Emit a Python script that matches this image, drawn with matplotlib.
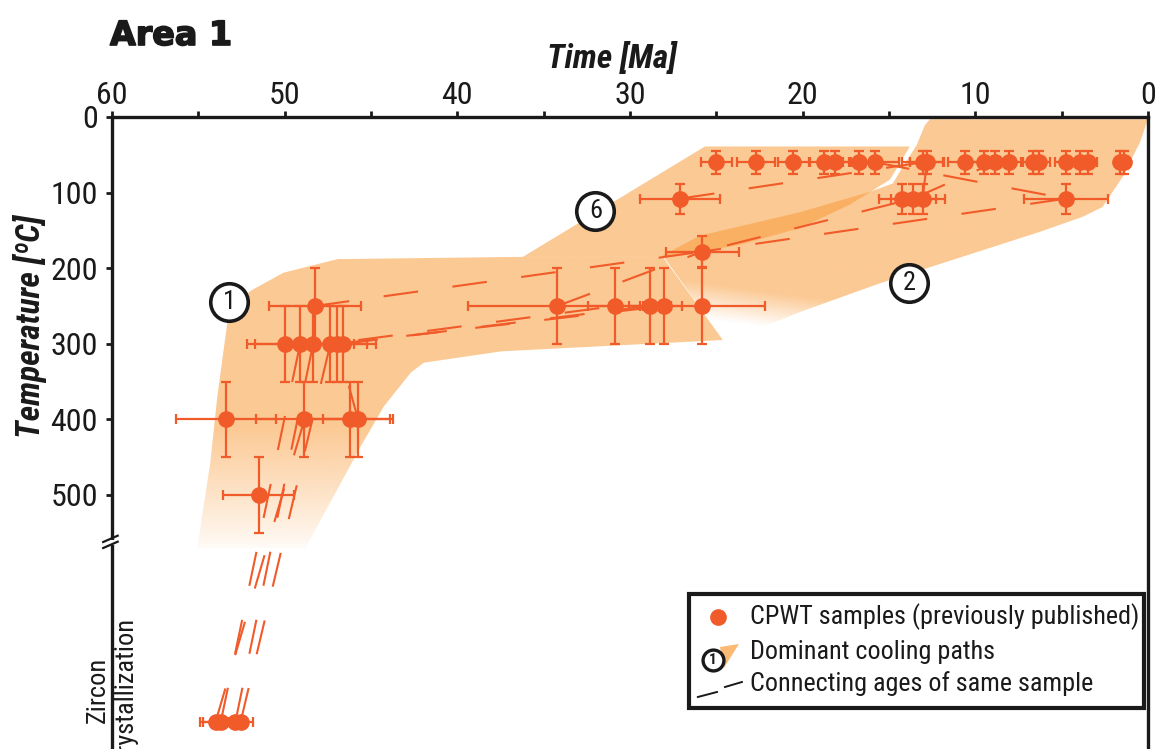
import numpy as np
import matplotlib
matplotlib.use("Agg")
import matplotlib.pyplot as plt
from matplotlib.patches import Polygon, Rectangle
from matplotlib import font_manager as fm
from matplotlib import patheffects as pe

# ---------------------------------------------------------------- data
# Thermochronology ages (Ma) and closure temperatures (degC), grouped by
# temperature step; errors are bars in age and temperature.
ages_060 = [25.0, 22.7, 20.55, 18.75, 18.1, 16.75, 15.8, 13.05, 12.8, 10.6,
            9.5, 8.85, 8.05, 6.65, 6.3, 4.75, 3.95, 3.45, 1.6, 1.4]
aerr_060 = [0.9, 1.1, 0.9, 0.8, 0.8, 0.9, 1.4, 1.2, 1.0, 1.0,
            0.8, 0.7, 0.7, 0.6, 0.6, 0.65, 0.5, 0.5, 0.2, 0.2]
temp_060, terr_060 = 60, 15

ages_108 = [27.1, 14.25, 13.6, 13.05, 4.75]
aerr_108 = [2.3, 1.3, 1.3, 1.3, 2.45]
temp_108, terr_108 = 108, 20

ages_178 = [25.8]
aerr_178 = [2.1]
temp_178, terr_178 = 178, 20

ages_250 = [48.25, 34.2, 30.85, 28.85, 28.0, 25.8]
aerr_250 = [2.65, 5.2, 1.6, 1.2, 1.0, 3.6]
temp_250, terr_250 = 250, 50

ages_300 = [49.95, 49.1, 48.35, 47.35, 46.95, 46.6]
aerr_300 = [1.75, 3.1, 1.0, 1.0, 1.7, 1.9]
temp_300, terr_300 = 300, 50

ages_400 = [53.4, 48.85, 46.2, 45.75]
aerr_400 = [2.9, 2.8, 2.3, 2.0]
temp_400, terr_400 = 400, 50

ages_500 = [51.5]
aerr_500 = [2.05]
temp_500, terr_500 = 500, 50

# zircon U-Pb crystallization ages, plotted on the level below the axis break
ages_zrc = [54.0, 53.7, 52.85, 52.55]
aerr_zrc = [0.9, 1.0, 0.6, 0.7]
temp_zrc = 800

# ages belonging to the same sample, joined by dashed lines
sample_paths = [
    [(54.0, 800), (48.85, 400)],
    [(53.7, 800), (49.1, 300)],
    [(52.85, 800), (48.35, 300)],
    [(52.55, 800), (47.35, 300), (30.85, 250)],
    [(46.6, 300), (28.85, 250)],
    [(46.95, 300), (28.0, 250)],
    [(45.75, 400), (46.95, 300)],
    [(48.25, 250), (25.8, 178), (13.6, 108)],
    [(34.2, 250), (25.8, 178), (4.75, 108)],
    [(27.1, 108), (13.05, 60)],
    [(15.8, 60), (4.75, 108)],
    [(13.6, 108), (8.85, 60)],
    [(12.8, 60), (13.05, 108)],
]

# dominant cooling-path envelopes (age, temperature outlines)
path1_outline = [(55.06, 570), (54.31, 458), (53.9, 370), (53.32, 272),
                 (52.68, 246), (51.98, 230), (50.07, 206), (48.33, 196),
                 (46.93, 188), (36.2, 185), (28.1, 185), (24.62, 295),
                 (37.46, 310), (41.94, 325), (42.69, 338), (44.26, 383),
                 (45.6, 436), (48.79, 570)]
path6_outline = [(36.2, 185), (25.66, 39), (13.79, 39), (14.08, 50),
                 (14.49, 66), (14.95, 83), (17.27, 116), (20.16, 147),
                 (23.64, 169), (25.95, 178.5), (28.1, 185)]
path2_outline = [(28.1, 183), (25.95, 157), (20.16, 126), (16.11, 99),
                 (14.78, 88), (14.2, 66), (13.39, 37), (12.92, 11),
                 (12.63, 3), (0.0, 3), (0.47, 34), (1.46, 79), (2.62, 119),
                 (3.78, 132), (6.27, 152), (10.9, 186), (15.53, 220),
                 (20.16, 258), (23.64, 290), (24.62, 295)]

path_labels = ["1", "6", "2"]
path_label_pos = [(53.2, 245), (32.0, 124), (13.85, 220)]

x_ticks = [60, 50, 40, 30, 20, 10, 0]
x_minor = [55, 45, 35, 25, 15, 5]
y_ticks = [0, 100, 200, 300, 400, 500]

# ---------------------------------------------------------------- style
def first_font(*names):
    for name in names:
        try:
            fm.findfont(fm.FontProperties(family=name), fallback_to_default=False)
            return name
        except Exception:
            continue
    return "DejaVu Sans"

NARROW = first_font("Liberation Sans Narrow", "Roboto Condensed",
                    "Liberation Sans", "Arial")
plt.rcParams["font.family"] = [NARROW, "DejaVu Sans"]
plt.rcParams["lines.scale_dashes"] = False

ORANGE = "#F15A29"
ENV_RGB = (249 / 255, 157 / 255, 60 / 255)
ENV_ALPHA = 0.55
INK = "#1a1a1a"

fig = plt.figure(figsize=(11.58, 7.49), dpi=100)
ax = fig.add_axes([0.0967, 0.0, 0.8946, 0.8438])
ax.set_facecolor("white")


def gradient_envelope(outline, fade, zorder):
    patch = Polygon(outline, closed=True, fc="none", ec="none",
                    transform=ax.transData)
    ax.add_patch(patch)
    a = np.array(outline)
    a0, a1 = a[:, 0].min(), a[:, 0].max()
    t0, t1 = a[:, 1].min(), a[:, 1].max()
    A, T = np.meshgrid(np.linspace(a0, a1, 400), np.linspace(t0, t1, 400))
    rgba = np.zeros(A.shape + (4,))
    rgba[..., :3] = ENV_RGB
    rgba[..., 3] = ENV_ALPHA * np.clip(fade(A, T), 0, 1)
    im = ax.imshow(rgba, extent=(a0, a1, t0, t1), origin="lower",
                   aspect="auto", interpolation="bilinear", zorder=zorder)
    im.set_clip_path(patch)


def fade_path1(A, T):
    # whitens towards the hot end
    return np.clip((580 - T) / 170, 0, 1) ** 0.9


def fade_path2(A, T):
    # whitens towards the old end, mostly along its lower edge
    u = (60 - A) * 17.27      # horizontal screen-like units
    v = T * 0.756             # vertical screen-like units
    dx, dy = u - 611, v - 223
    across = (-123 * dx - 360 * dy) / 380   # distance above the lower edge
    along = (360 * dx - 123 * dy) / 380     # distance from the old tip
    return across / 40 + (along - 40) / 80


gradient_envelope(path1_outline, fade_path1, 1)
gradient_envelope(path2_outline, fade_path2, 1)
ax.add_patch(Polygon(path6_outline, closed=True, fc=ENV_RGB, alpha=ENV_ALPHA,
                     ec="none", zorder=1))

# dashed links between ages of one sample
for path in sample_paths:
    pa, pt = zip(*path)
    ax.plot(pa, pt, color=ORANGE, lw=1.5, dashes=(25, 25), zorder=2,
            dash_capstyle="butt")

# samples with error bars
groups = [
    (ages_060, aerr_060, temp_060, terr_060),
    (ages_108, aerr_108, temp_108, terr_108),
    (ages_178, aerr_178, temp_178, terr_178),
    (ages_250, aerr_250, temp_250, terr_250),
    (ages_300, aerr_300, temp_300, terr_300),
    (ages_400, aerr_400, temp_400, terr_400),
    (ages_500, aerr_500, temp_500, terr_500),
]
for ages, aerr, temp, terr in groups:
    ax.errorbar(ages, [temp] * len(ages), xerr=aerr, yerr=terr, fmt="o",
                color=ORANGE, ms=11, elinewidth=1.6, capsize=3.6,
                capthick=1.6, zorder=4)
ax.errorbar(ages_zrc, [temp_zrc] * len(ages_zrc), xerr=aerr_zrc, fmt="o",
            color=ORANGE, ms=11, elinewidth=1.6, capsize=3.6, capthick=1.6,
            zorder=4)

# numbered cooling-path labels
for lab, (pa, pt) in zip(path_labels, path_label_pos):
    ax.plot(pa, pt, "o", ms=27, mfc="white", mec=INK, mew=2.6, zorder=6)
    ax.text(pa, pt, lab, ha="center", va="center", fontsize=19, color=INK,
            zorder=7)

# ---------------------------------------------------------------- axes
ax.set_xlim(60, 0)
ax.set_ylim(836, 0)
ax.xaxis.tick_top()
ax.set_xticks(x_ticks)
ax.set_xticks(x_minor, minor=True)
ax.set_yticks(y_ticks)
ax.tick_params(axis="x", which="both", direction="out", length=4, width=2,
               pad=1, labelsize=23, colors=INK, bottom=False, top=True)
ax.tick_params(axis="y", which="both", direction="out", length=4, width=2,
               pad=6, labelsize=23, colors=INK, right=False)
for side in ("top", "left", "right"):
    ax.spines[side].set_linewidth(2.4)
    ax.spines[side].set_color(INK)
ax.spines["bottom"].set_visible(False)

ax.set_xlabel("Time [Ma]", fontsize=24, fontweight="bold", style="italic",
              color=INK)
ax.xaxis.set_label_position("top")
ax.xaxis.set_label_coords(0.4826, 1.093)
ax.xaxis.label.set_va("center")
ax.set_ylabel("Temperature [ºC]", fontsize=24, fontweight="bold",
              style="italic", color=INK)
ax.yaxis.set_label_coords(-0.079, 0.669)
ax.yaxis.label.set_va("center")

# axis break on the temperature scale
ax.add_patch(Rectangle((-0.008, 0.322), 0.016, 0.009, transform=ax.transAxes,
                       fc="white", ec="none", clip_on=False, zorder=9))
for dy in (0.0, 0.0095):
    ax.plot([-0.0085, 0.0055], [0.318 + dy, 0.328 + dy], color=INK, lw=1.6,
            transform=ax.transAxes, clip_on=False, zorder=10)

ax.text(0.0, 0.0934, "Zircon\ncrystallization", rotation=90,
        ha="center", va="center", multialignment="center", fontsize=19,
        color=INK, transform=ax.transAxes, clip_on=False, zorder=3)

# ---------------------------------------------------------------- key
ax.add_patch(Rectangle((0.557, 0.0649), 0.439, 0.1804, transform=ax.transAxes,
                       fc="white", ec=INK, lw=3, zorder=8))
ax.plot([0.585], [0.2089], "o", color=ORANGE, ms=11, transform=ax.transAxes,
        zorder=9)
ax.add_patch(Polygon([(0.5869, 0.1614), (0.6052, 0.1661), (0.5907, 0.1282)],
                     closed=True, fc=ENV_RGB, alpha=0.7, ec="none",
                     transform=ax.transAxes, zorder=9))
ax.plot([0.5801], [0.1408], "o", ms=15, mfc="white", mec=INK, mew=2.4,
        transform=ax.transAxes, zorder=10)
ax.text(0.5801, 0.1408, "1", ha="center", va="center", fontsize=11,
        fontweight="bold", color=INK, transform=ax.transAxes, zorder=11)
ax.plot([0.5656, 0.5840], [0.0823, 0.0902], color=INK, lw=1.4,
        transform=ax.transAxes, zorder=9)
ax.plot([0.5917, 0.6081], [0.0981, 0.1060], color=INK, lw=1.4,
        transform=ax.transAxes, zorder=9)
key_text = ["CPWT samples (previously published)", "Dominant cooling paths",
            "Connecting ages of same sample"]
for txt, y in zip(key_text, (0.2089, 0.1535, 0.1028)):
    ax.text(0.6158, y, txt, ha="left", va="center", fontsize=18.8, color=INK,
            transform=ax.transAxes, zorder=9)

fig.text(0.095, 0.9399, "Area 1", fontsize=24, fontweight="bold",
         family="DejaVu Sans", color=INK, ha="left", va="baseline",
         path_effects=[pe.withStroke(linewidth=1.2, foreground=INK)])

fig.savefig("out.png", dpi=100, facecolor="white")
